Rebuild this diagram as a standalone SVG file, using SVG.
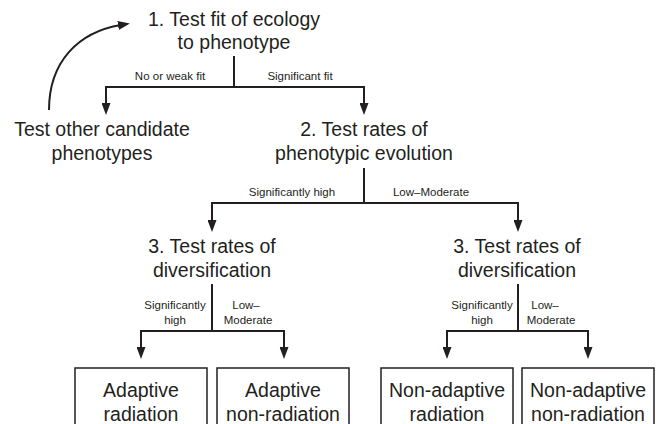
<svg xmlns="http://www.w3.org/2000/svg" width="660" height="424" viewBox="0 0 660 424">
<defs>
<marker id="ah" markerUnits="userSpaceOnUse" markerWidth="12" markerHeight="9" refX="3" refY="4.5" orient="auto" viewBox="0 0 12 9">
<path d="M0,0 L12,4.5 L0,9 z" fill="#231f20"/>
</marker>
<style>
.t{font-family:"Liberation Sans",Arial,sans-serif;font-size:19.5px;fill:#231f20;text-anchor:middle}
.s{font-family:"Liberation Sans",Arial,sans-serif;font-size:11.5px;fill:#231f20;text-anchor:middle}
.ln{fill:none;stroke:#231f20;stroke-width:2}
.ar{fill:none;stroke:#231f20;stroke-width:2;marker-end:url(#ah)}
.bx{fill:#fff;stroke:#231f20;stroke-width:1.5}
</style>
</defs>
<rect width="660" height="424" fill="#fff"/>
<g id="connectors">
<path class="ln" d="M234,56 V87"/>
<path class="ar" d="M234,87 H106 V106"/>
<path class="ar" d="M234,87 H364 V106"/>
<path class="ar" d="M49,110 C49,62 78,32 121,25"/>
<path class="ln" d="M364,168 V203"/>
<path class="ar" d="M364,203 H212 V223"/>
<path class="ar" d="M364,203 H518 V223"/>
<path class="ln" d="M212,284 V331"/>
<path class="ar" d="M212,331 H141 V350"/>
<path class="ar" d="M212,331 H284 V350"/>
<path class="ln" d="M518,284 V331"/>
<path class="ar" d="M518,331 H447 V350"/>
<path class="ar" d="M518,331 H588 V350"/>
<text class="s" x="170" y="80">No or weak fit</text>
<text class="s" x="300" y="80">Significant fit</text>
<text class="s" x="292" y="196">Significantly high</text>
<text class="s" x="431" y="196">Low–Moderate</text>
<text class="s" x="175" y="309">Significantly</text>
<text class="s" x="175" y="324">high</text>
<text class="s" x="246" y="309">Low–</text>
<text class="s" x="248" y="324">Moderate</text>
<text class="s" x="482" y="309">Significantly</text>
<text class="s" x="482" y="324">high</text>
<text class="s" x="545" y="309">Low–</text>
<text class="s" x="551" y="324">Moderate</text>
</g>
<g id="n1">
<text class="t" x="234" y="26">1. Test fit of ecology</text>
<text class="t" x="234" y="49">to phenotype</text>
</g>
<g id="n-other">
<text class="t" x="102" y="136">Test other candidate</text>
<text class="t" x="102" y="160">phenotypes</text>
</g>
<g id="n2">
<text class="t" x="364" y="136">2. Test rates of</text>
<text class="t" x="364" y="160">phenotypic evolution</text>
</g>
<g id="n3a">
<text class="t" x="212" y="253">3. Test rates of</text>
<text class="t" x="212" y="277">diversification</text>
</g>
<g id="n3b">
<text class="t" x="517" y="253">3. Test rates of</text>
<text class="t" x="517" y="277">diversification</text>
</g>
<g id="box1">
<rect class="bx" x="75" y="368" width="132" height="70"/>
<text class="t" x="141" y="397">Adaptive</text>
<text class="t" x="141" y="421">radiation</text>
</g>
<g id="box2">
<rect class="bx" x="217" y="368" width="132" height="70"/>
<text class="t" x="283" y="397">Adaptive</text>
<text class="t" x="283" y="421">non-radiation</text>
</g>
<g id="box3">
<rect class="bx" x="381" y="368" width="132" height="70"/>
<text class="t" x="447" y="397">Non-adaptive</text>
<text class="t" x="447" y="421">radiation</text>
</g>
<g id="box4">
<rect class="bx" x="522" y="368" width="132" height="70"/>
<text class="t" x="588" y="397">Non-adaptive</text>
<text class="t" x="588" y="421">non-radiation</text>
</g>
</svg>
